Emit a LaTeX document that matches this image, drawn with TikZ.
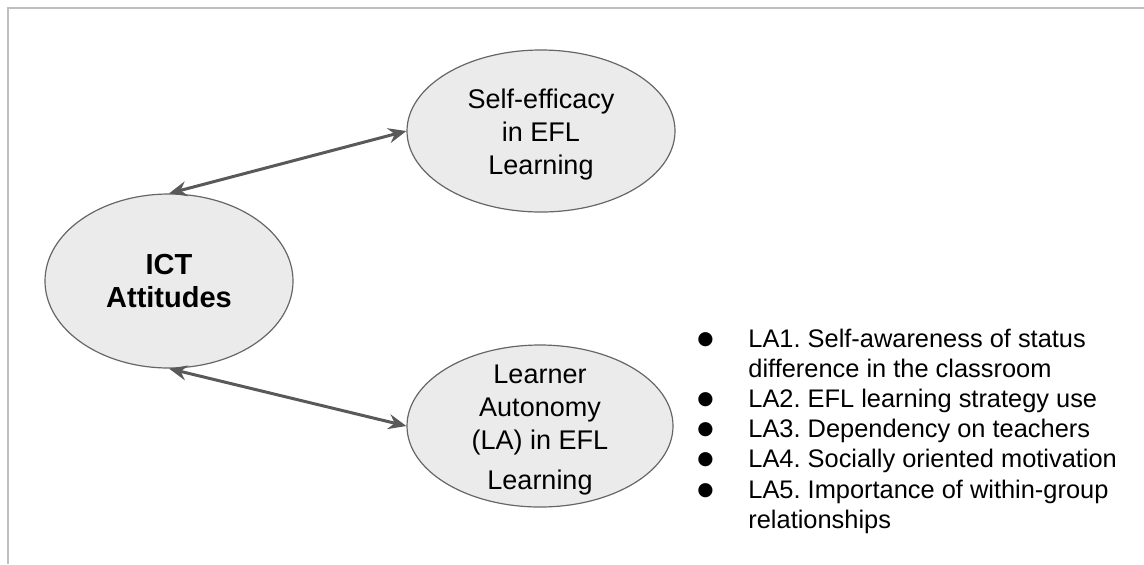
\documentclass[tikz,border=0pt]{standalone}
\usepackage{fontspec}
\setmainfont{Liberation Sans}
\newfontfamily\symfont{DejaVu Sans}
\usetikzlibrary{shapes.geometric,arrows.meta}
\newcommand{\lbullet}{\raisebox{1.5pt}{\symfont\fontsize{9.3}{12}\selectfont ●}}

\begin{document}
\begin{tikzpicture}[x=0.5pt,y=-0.5pt,construct/.style={draw=black!60, fill=black!8, shape=ellipse, align=center, inner sep=0pt, line width=0.6pt, font=\fontsize{13.5}{16.5}\selectfont},link/.style={draw=black!65, line width=1.5pt, {Stealth[length=9pt,width=7.5pt,inset=3pt]}-{Stealth[length=9pt,width=7.5pt,inset=3pt]}},frame/.style={draw=black!25, line width=1pt}]
\useasboundingbox (0,0) rectangle (1144,564);
\draw[frame] (8,564) -- (8,8) -- (1144,8);
\node[construct, minimum width=124pt, minimum height=87pt, font=\fontsize{14.5}{16.5}\selectfont\bfseries] (ict) at (169,281) {ICT\\Attitudes};
\node[construct, minimum width=134pt, minimum height=81pt] (self) at (541,131) {\rule{0pt}{13pt}Self-efficacy\\in EFL\\Learning};
\node[construct, minimum width=133pt, minimum height=81pt, inner ysep=-10pt] (la) at (540,426) {\rule{0pt}{13pt}Learner\\Autonomy\\(LA) in EFL\\[3.5pt]Learning};
\draw[link] (ict.north) -- (self.west);
\draw[link] (ict.south) -- (la.west);
% LA sub-dimensions
\node[anchor=base west, inner sep=0pt, font=\fontsize{12.7}{15.1}\selectfont\frenchspacing] (items) at (697,347) {\begin{tabular}[t]{@{}p{25.5pt}@{}l@{}}
\lbullet & LA1. Self-awareness of status\\
 & difference in the classroom\\
\lbullet & LA2. EFL learning strategy use\\
\lbullet & LA3. Dependency on teachers\\
\lbullet & LA4. Socially oriented motivation\\
\lbullet & LA5. Importance of within-group\\
 & relationships
\end{tabular}};
\end{tikzpicture}
\end{document}
